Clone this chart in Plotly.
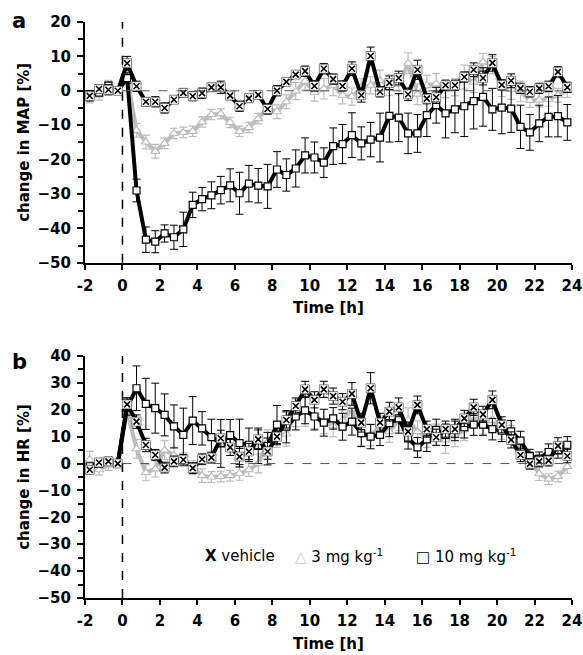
import plotly.graph_objects as go

# ---------------- data ----------------
time_h = [-1.75, -1.25, -0.75, -0.25, 0.25, 0.75, 1.25, 1.75, 2.25, 2.75, 3.25, 3.75,
          4.25, 4.75, 5.25, 5.75, 6.25, 6.75, 7.25, 7.75, 8.25, 8.75, 9.25, 9.75,
          10.25, 10.75, 11.25, 11.75, 12.25, 12.75, 13.25, 13.75, 14.25, 14.75, 15.25, 15.75,
          16.25, 16.75, 17.25, 17.75, 18.25, 18.75, 19.25, 19.75, 20.25, 20.75, 21.25, 21.75,
          22.25, 22.75, 23.25, 23.75]

# panel a: change in MAP [%]
map_vehicle = [-1.5, 0.5, 0.3, 0.0, 8.0, 1.3, -3.2, -3.2, -5.0, -2.6, -0.6, -1.6,
               -0.7, 1.0, 1.0, -1.4, -4.5, -2.2, -1.2, -5.3, 0.0, 2.6, 4.7, 5.7,
               1.4, 6.4, 3.4, 1.4, 6.4, -1.3, 10.1, -0.3, 2.3, 3.7, -1.0, 6.1,
               -2.3, -1.9, 1.6, 1.6, 4.0, 6.1, 3.7, 8.1, 1.7, 2.9, 0.7, -0.3,
               0.7, 1.3, 5.5, 1.0]
map_vehicle_err = [1.5, 1.2, 1.5, 0.8, 2.0, 1.5, 1.2, 1.5, 1.5, 1.0, 1.2, 1.3,
                   1.5, 1.2, 1.8, 1.2, 1.5, 1.2, 1.0, 1.5, 1.5, 1.0, 1.0, 1.5,
                   1.5, 1.5, 1.5, 1.5, 2.0, 2.0, 2.6, 1.5, 2.0, 2.0, 1.8, 2.8,
                   1.5, 1.8, 1.5, 1.5, 1.5, 2.0, 2.0, 2.4, 1.5, 2.0, 1.5, 1.5,
                   1.5, 1.5, 1.5, 1.5]
map_3mg = [-2.0, -1.2, 1.5, 0.0, 4.0, -11.5, -14.9, -17.6, -15.3, -12.4, -12.1, -11.8,
           -9.1, -6.9, -6.7, -9.2, -11.8, -10.7, -8.1, -5.2, -6.1, -3.2, -0.1, 2.8,
           -0.5, 0.6, 1.6, -1.3, -1.7, 1.0, 1.6, 3.0, 1.6, 2.0, 8.0, -1.0,
           1.5, 2.0, 0.5, 1.0, 4.0, 2.5, 8.4, 7.5, 0.8, 0.5, -0.2, -2.8,
           -2.7, -2.5, -1.3, 0.1]
map_3mg_err = [1.5, 1.5, 1.5, 1.0, 2.0, 2.0, 2.0, 2.0, 1.5, 1.5, 1.5, 1.5,
               1.5, 1.5, 1.5, 1.5, 1.5, 1.5, 1.5, 1.5, 2.0, 2.0, 2.5, 2.5,
               2.5, 3.0, 3.0, 2.5, 2.5, 2.5, 2.5, 3.0, 3.0, 3.0, 3.0, 3.0,
               3.0, 3.0, 2.5, 2.5, 3.5, 3.0, 2.5, 2.5, 2.5, 3.0, 3.0, 2.0,
               2.0, 2.0, 2.0, 2.0]
map_10mg = [-1.0, -0.5, 1.5, 0.0, 3.7, -29.0, -43.3, -43.9, -41.5, -42.6, -40.3, -33.2,
            -31.5, -30.4, -28.9, -27.5, -29.8, -27.0, -27.6, -27.8, -22.9, -24.5, -22.6, -18.8,
            -19.4, -20.9, -16.1, -15.5, -12.9, -15.3, -14.2, -13.6, -7.3, -7.8, -12.4, -12.4,
            -7.1, -4.2, -6.6, -5.4, -4.5, -3.0, -1.8, -5.4, -4.9, -5.2, -10.5, -12.1,
            -9.5, -7.6, -7.4, -9.2]
map_10mg_err = [1.0, 1.0, 1.0, 1.0, 1.5, 3.3, 3.7, 3.2, 2.5, 3.5, 5.0, 3.7,
                3.4, 3.9, 4.0, 4.8, 6.1, 5.3, 5.0, 6.4, 5.2, 4.7, 5.4, 5.1,
                4.5, 4.3, 5.3, 5.7, 6.5, 4.8, 5.0, 7.1, 7.6, 7.0, 5.9, 5.5,
                6.2, 5.2, 7.1, 6.8, 8.8, 8.1, 8.5, 6.1, 7.6, 6.9, 6.3, 5.2,
                5.3, 5.8, 6.0, 5.2]

# panel b: change in HR [%]
hr_vehicle = [-2.3, 0.4, 0.8, 0.0, 22.0, 15.6, 6.9, 3.2, -1.5, 0.8, 1.4, -1.7,
              1.6, 2.2, 9.4, 6.0, 2.6, 4.5, 9.0, 4.5, 10.0, 16.2, 21.4, 27.6,
              23.7, 27.6, 25.1, 23.0, 25.9, 15.2, 28.0, 15.2, 19.3, 20.9, 11.9, 21.8,
              12.8, 9.8, 12.8, 12.8, 16.8, 20.9, 18.3, 23.7, 14.4, 8.8, 3.2, -0.1,
              0.8, 1.1, 6.6, 2.8]
hr_vehicle_err = [1.5, 1.5, 1.5, 1.0, 2.5, 2.5, 2.5, 2.0, 2.0, 2.0, 2.0, 2.0,
                  2.0, 2.0, 3.0, 3.0, 3.0, 3.0, 3.5, 5.0, 3.0, 3.0, 3.0, 3.0,
                  3.0, 3.0, 3.0, 3.0, 4.2, 3.5, 5.8, 3.5, 3.5, 3.5, 3.5, 3.3,
                  3.0, 3.0, 3.0, 3.0, 3.0, 3.0, 3.0, 3.3, 3.0, 3.0, 2.5, 2.0,
                  2.0, 2.0, 3.0, 2.5]
hr_3mg = [1.5, -2.3, -0.5, 0.0, 19.5, 5.5, -3.4, -2.0, 5.0, 3.0, 1.4, -1.5,
          -4.5, -5.0, -4.8, -4.5, -3.7, -2.3, 0.0, 8.0, 10.5, 11.0, 18.7, 19.3,
          18.0, 15.6, 14.0, 16.2, 20.6, 10.7, 10.7, 13.7, 11.9, 16.2, 16.2, 11.9,
          10.0, 10.7, 8.8, 10.3, 12.5, 17.7, 15.0, 16.2, 12.5, 10.7, 5.1, 1.4,
          -3.8, -5.8, -4.8, -1.1]
hr_3mg_err = [3.0, 2.0, 2.0, 1.0, 3.0, 3.5, 3.0, 3.0, 3.5, 3.0, 2.5, 2.5,
              2.5, 2.0, 2.0, 2.0, 2.5, 2.5, 3.5, 4.5, 4.5, 4.5, 5.0, 5.5,
              5.0, 4.5, 4.0, 4.0, 4.5, 4.0, 4.0, 4.0, 4.0, 4.0, 4.5, 4.0,
              4.0, 4.0, 5.0, 4.0, 4.0, 4.0, 4.0, 4.0, 3.5, 3.5, 3.0, 3.0,
              2.5, 2.0, 2.0, 2.5]
hr_10mg = [-1.0, 0.0, 1.0, 0.0, 21.0, 28.0, 22.2, 20.6, 18.1, 13.8, 10.7, 16.0,
           13.1, 9.8, 7.5, 10.6, 7.6, 7.0, 6.6, 6.6, 14.5, 13.7, 17.5, 19.8,
           17.5, 15.2, 16.8, 13.7, 15.6, 11.3, 10.0, 10.7, 15.0, 16.8, 9.4, 6.0,
           9.0, 12.5, 10.7, 12.5, 13.5, 14.5, 14.5, 12.8, 12.2, 12.0, 8.5, 2.8,
           1.8, 4.3, 5.0, 7.0]
hr_10mg_err = [1.0, 1.0, 1.0, 1.0, 3.0, 8.3, 9.5, 9.3, 7.8, 8.0, 9.9, 8.9,
               6.2, 6.7, 8.9, 5.8, 8.9, 6.2, 6.6, 5.0, 7.1, 6.0, 5.0, 5.0,
               5.0, 5.0, 4.0, 5.0, 5.0, 5.0, 4.5, 4.0, 5.0, 5.5, 4.0, 3.7,
               4.5, 4.0, 4.0, 4.0, 4.0, 4.0, 4.0, 4.0, 4.0, 4.0, 3.5, 2.5,
               2.5, 3.0, 3.0, 3.0]

x_ticks = [-2, 0, 2, 4, 6, 8, 10, 12, 14, 16, 18, 20, 22, 24]

GRAY = "#bcbcbc"
FONT = "DejaVu Sans"

W, H = 583, 655
ML, MR, MT, MB = 85, 11, 22, 57
PW, PH = W - ML - MR, H - MT - MB


def px_x(px):
    return (px - ML) / PW


def px_y(py):
    return 1 - (py - MT) / PH


def clamp(v):
    return min(1.0, max(0.0, v))


fig = go.Figure()


def add_panel(xa, ya, v_y, v_e, l_y, l_e, h_y, h_e):
    # 3 mg kg-1 (gray triangles)
    fig.add_trace(go.Scatter(
        x=time_h, y=l_y, xaxis=xa, yaxis=ya, mode="lines+markers",
        line=dict(color=GRAY, width=4),
        marker=dict(symbol="triangle-up", size=8, color="white",
                    line=dict(color=GRAY, width=1.2)),
        error_y=dict(type="data", array=l_e, color=GRAY, thickness=1.2, width=4),
        showlegend=False, hoverinfo="skip"))
    # 10 mg kg-1 (black squares)
    fig.add_trace(go.Scatter(
        x=time_h, y=h_y, xaxis=xa, yaxis=ya, mode="lines+markers",
        line=dict(color="black", width=4),
        marker=dict(symbol="square", size=7, color="white",
                    line=dict(color="black", width=1.2)),
        error_y=dict(type="data", array=h_e, color="black", thickness=1, width=4),
        showlegend=False, hoverinfo="skip"))
    # vehicle (x in white box)
    fig.add_trace(go.Scatter(
        x=time_h, y=v_y, xaxis=xa, yaxis=ya, mode="lines+markers",
        line=dict(color="black", width=4),
        marker=dict(symbol="square", size=9, color="white",
                    line=dict(color="#333333", width=0.6)),
        error_y=dict(type="data", array=v_e, color="black", thickness=1, width=4),
        showlegend=False, hoverinfo="skip"))
    fig.add_trace(go.Scatter(
        x=time_h, y=v_y, xaxis=xa, yaxis=ya, mode="markers",
        marker=dict(symbol="x-thin", size=6, color="black",
                    line=dict(color="black", width=1.6)),
        showlegend=False, hoverinfo="skip"))


add_panel("x", "y", map_vehicle, map_vehicle_err, map_3mg, map_3mg_err, map_10mg, map_10mg_err)
add_panel("x2", "y2", hr_vehicle, hr_vehicle_err, hr_3mg, hr_3mg_err, hr_10mg, hr_10mg_err)

top_a, bot_a = 21.7, 262.7
top_b, bot_b = 356.0, 598.3

xcommon = dict(range=[-2, 24], tickvals=x_ticks, ticktext=[str(v) for v in x_ticks],
               showgrid=False, zeroline=False, showline=True, linecolor="black", linewidth=2,
               ticks="outside", ticklen=5, tickwidth=2, tickcolor="black", automargin=False,
               ticklabelstandoff=3, ticklabeloverflow="allow",
               tickfont=dict(family=FONT, size=15, color="black", weight="bold"),
               title=dict(text="<b>Time [h]</b>", font=dict(family=FONT, size=15, color="black"),
                          standoff=9))
ycommon = dict(showgrid=False, zeroline=False, showline=True, linecolor="black", linewidth=2,
               ticks="outside", ticklen=6, tickwidth=2, tickcolor="black", dtick=10,
               automargin=False, ticklabelstandoff=3, ticklabeloverflow="allow",
               minor=dict(dtick=5, ticks="outside", ticklen=5, tickwidth=1.5, tickcolor="black"),
               tickfont=dict(family=FONT, size=15, color="black", weight="bold"))

fig.update_layout(
    width=W, height=H, margin=dict(l=ML, r=MR, t=MT, b=MB, autoexpand=False),
    plot_bgcolor="white", paper_bgcolor="white",
    xaxis=dict(anchor="y", domain=[0, 1], **xcommon),
    xaxis2=dict(anchor="y2", domain=[0, 1], **xcommon),
    yaxis=dict(anchor="x", domain=[clamp(px_y(bot_a)), clamp(px_y(top_a))], range=[-50, 20],
               title=dict(text="<b>change in MAP [%]</b>", font=dict(family=FONT, size=15, color="black"),
                          standoff=4), **ycommon),
    yaxis2=dict(anchor="x2", domain=[0, clamp(px_y(top_b))], range=[-50, 40],
                title=dict(text="<b>change in HR [%]</b>", font=dict(family=FONT, size=15, color="black"),
                           standoff=4), **ycommon),
)

shapes = []
for xr, yr in (("x", "y"), ("x2", "y2")):
    shapes.append(dict(type="line", xref=xr, yref=yr + " domain", x0=0, x1=0, y0=0, y1=1,
                       line=dict(color="black", width=1.5, dash="dash")))
    shapes.append(dict(type="line", xref=xr, yref=yr, x0=0, x1=24, y0=0, y1=0,
                       line=dict(color="#555555", width=1, dash="dash")))
fig.update_layout(shapes=shapes)

ann = [
    dict(text="<b>a</b>", x=px_x(19), y=px_y(21), xanchor="center", yanchor="middle",
         font=dict(family=FONT, size=21, color="black")),
    dict(text="<b>b</b>", x=px_x(19), y=px_y(362), xanchor="center", yanchor="middle",
         font=dict(family=FONT, size=21, color="black")),
    dict(text="<b>X</b> vehicle", x=px_x(203), y=px_y(556), xanchor="left", yanchor="middle",
         font=dict(family=FONT, size=15, color="black")),
    dict(text="<span style='color:#c8c8c8'>\u25b3</span> 3 mg kg<sup>-1</sup>", x=px_x(293), y=px_y(556),
         xanchor="left", yanchor="middle", font=dict(family=FONT, size=15, color="black")),
    dict(text="\u25a1 10 mg kg<sup>-1</sup>", x=px_x(414), y=px_y(556),
         xanchor="left", yanchor="middle", font=dict(family=FONT, size=15, color="black")),
]
for a in ann:
    a.update(xref="paper", yref="paper", showarrow=False)
fig.update_layout(annotations=ann)

fig.write_html(
    "out.html",
    config={"displayModeBar": False},
    post_script="document.body.style.margin='0px';document.body.style.overflow='hidden';",
)
